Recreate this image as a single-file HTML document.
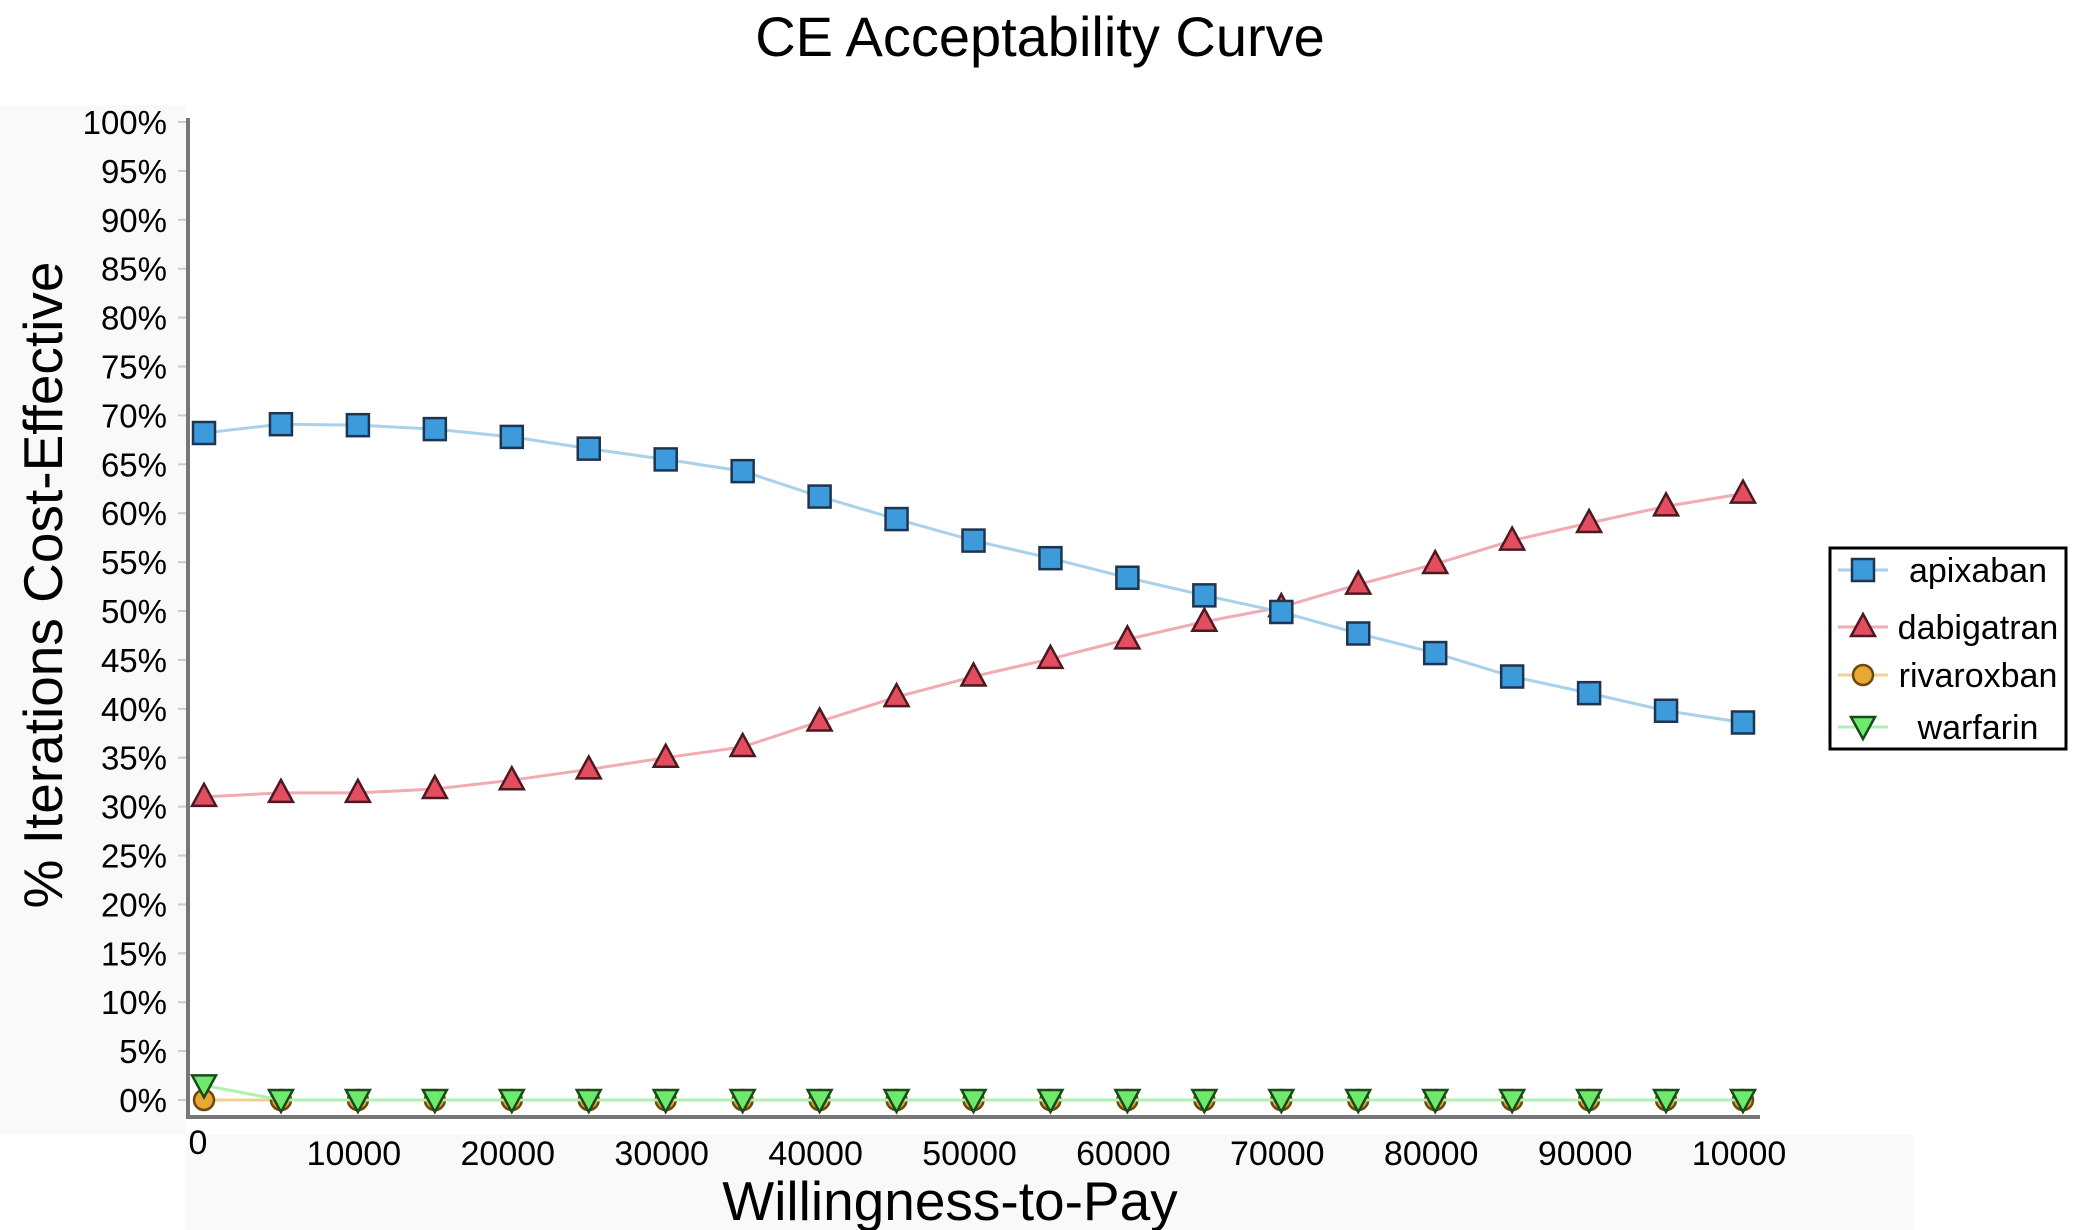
<!DOCTYPE html>
<html><head><meta charset="utf-8">
<style>
html,body{margin:0;padding:0;background:#fff;}
svg{display:block;font-family:"Liberation Sans",sans-serif;}
</style></head>
<body>
<svg id="chart" width="2083" height="1230" viewBox="0 0 2083 1230">
<rect x="0" y="105" width="186" height="1030" fill="#f9f9f9"/>
<rect x="186" y="1135" width="1728" height="95" fill="#f9f9f9"/>
<text x="1040" y="56" font-size="56" text-anchor="middle" fill="#000">CE Acceptability Curve</text>
<text transform="translate(62,585) rotate(-90)" font-size="55" text-anchor="middle" fill="#000">% Iterations Cost-Effective</text>
<text x="950" y="1220" font-size="55" text-anchor="middle" fill="#000">Willingness-to-Pay</text>
<g id="yticks"></g><g id="xticks"></g>
<line x1="188" y1="118" x2="188" y2="1119" stroke="#777" stroke-width="4"/>
<line x1="186" y1="1117" x2="1760" y2="1117" stroke="#777" stroke-width="4"/>
<g id="series"></g>
<g>
<rect x="1830" y="548" width="236" height="201" fill="#fff" stroke="#000" stroke-width="3"/>
<g id="legend"></g>
</g>
</svg>
<script>
const xValues=[0,5000,10000,15000,20000,25000,30000,35000,40000,45000,50000,55000,60000,65000,70000,75000,80000,85000,90000,95000,100000];
const apixaban=[68.2,69.1,69,68.6,67.8,66.6,65.5,64.3,61.7,59.4,57.2,55.4,53.4,51.6,49.9,47.7,45.7,43.3,41.6,39.8,38.6];
const dabigatran=[31,31.4,31.4,31.8,32.7,33.8,35,36.1,38.7,41.2,43.3,45.1,47.1,48.9,50.4,52.7,54.8,57.2,59,60.7,62];
const rivaroxban=[0,0,0,0,0,0,0,0,0,0,0,0,0,0,0,0,0,0,0,0,0];
const warfarin=[1.5,0,0,0,0,0,0,0,0,0,0,0,0,0,0,0,0,0,0,0,0];
const yTickValues=[0,5,10,15,20,25,30,35,40,45,50,55,60,65,70,75,80,85,90,95,100];
const xTickValues=[0,10000,20000,30000,40000,50000,60000,70000,80000,90000,100000];
const xTickLabels=["0","10000","20000","30000","40000","50000","60000","70000","80000","90000","10000"];
const seriesNames=["apixaban","dabigatran","rivaroxban","warfarin"];

const NS="http://www.w3.org/2000/svg";
const X=v=>204+(v/100000)*1539;
const Y=v=>1100-(v/100)*978;
function mk(tag,attrs,parent){const e=document.createElementNS(NS,tag);for(const k in attrs)e.setAttribute(k,attrs[k]);parent.appendChild(e);return e;}

const yt=document.getElementById('yticks');
yTickValues.forEach(v=>{
  const t=mk('text',{x:167,y:Y(v)+12,'font-size':33,'text-anchor':'end',fill:'#000'},yt);
  t.textContent=v+'%';
  
  
  const l=mk('line',{x1:178,x2:188,y1:Y(v),y2:Y(v),stroke:'#ccc','stroke-width':2},yt);
  
  
});
const xt=document.getElementById('xticks');
xTickValues.forEach((v,i)=>{
  const t=mk('text',{x:X(v)-(i===0?6:0)-(i>0?4:0),y:i===0?1154:1165,'font-size':34,'text-anchor':'middle',fill:'#000'},xt);
  t.textContent=xTickLabels[i];
  
  
});

const sg=document.getElementById('series');
const styles=[
 {data:apixaban,line:'#a9d2ea',fill:'#3d9bdb',shape:'square'},
 {data:dabigatran,line:'#f2aab3',fill:'#e44d5f',shape:'tri'},
 {data:rivaroxban,line:'#f3cf94',fill:'#e9a832',shape:'circle'},
 {data:warfarin,line:'#aef2ae',fill:'#6ee96e',shape:'tridown'}
];
function marker(shape,cx,cy,fill,parent){
  let e;
  if(shape==='square') e=mk('rect',{x:cx-11,y:cy-11,width:22,height:22,fill:fill,stroke:'#1d3550','stroke-width':2.5},parent);
  else if(shape==='tri') e=mk('polygon',{points:`${cx},${cy-13} ${cx+12},${cy+9} ${cx-12},${cy+9}`,fill:fill,stroke:'#4a1a20','stroke-width':2.5},parent);
  else if(shape==='circle') e=mk('circle',{cx:cx,cy:cy,r:10,fill:fill,stroke:'#6a4a10','stroke-width':2.5},parent);
  else e=mk('polygon',{points:`${cx-12},${cy-10} ${cx+12},${cy-10} ${cx},${cy+12}`,fill:fill,stroke:'#1a4a1a','stroke-width':2.5},parent);
  return e;
}
[2,3,1,0].forEach(si=>{
  const s=styles[si];
  const g=mk('g',{},sg);
  
  
  const pts=s.data.map((v,i)=>X(xValues[i])+','+Y(v)).join(' ');
  const pl=mk('polyline',{points:pts,fill:'none',stroke:s.line,'stroke-width':3},g);
  
  
  s.data.forEach((v,i)=>{
    const m=marker(s.shape,X(xValues[i]),Y(v),s.fill,g);
    
    
  });
});

const lg=document.getElementById('legend');
const rows=[570,627,675,727];
seriesNames.forEach((n,i)=>{
  const g=mk('g',{},lg);
  
  
  mk('line',{x1:1838,x2:1888,y1:rows[i],y2:rows[i],stroke:styles[i].line,'stroke-width':3},g);
  marker(styles[i].shape,1863,rows[i],styles[i].fill,g);
  const t=mk('text',{x:1978,y:rows[i]+12,'font-size':34,'text-anchor':'middle',fill:'#000'},g);
  t.textContent=n;
  
  
});
</script>
</body></html>
